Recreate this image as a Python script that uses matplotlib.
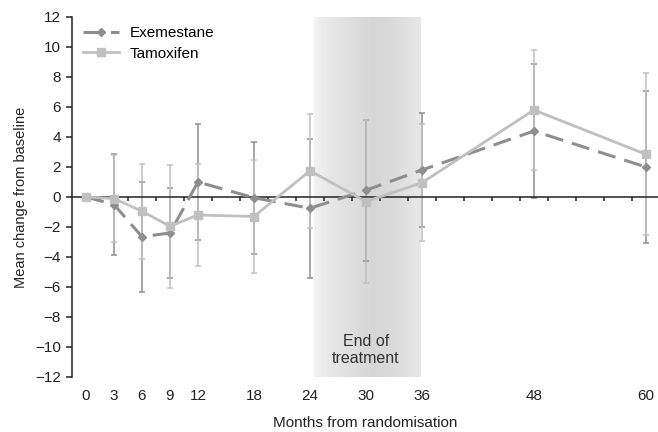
import numpy as np
import matplotlib.pyplot as plt

plt.rcParams['font.family'] = ['Liberation Sans', 'DejaVu Sans']

# data
months = [0, 3, 6, 9, 12, 18, 24, 30, 36, 48, 60]
exe_mean = [0, -0.5, -2.65, -2.4, 1.0, -0.05, -0.75, 0.45, 1.8, 4.4, 2.0]
exe_err = [0, 3.35, 3.65, 2.97, 3.85, 3.73, 4.65, 4.7, 3.8, 4.45, 5.08]
tam_mean = [0, -0.1, -0.95, -1.95, -1.2, -1.3, 1.75, -0.3, 0.95, 5.8, 2.85]
tam_err = [0, 2.88, 3.15, 4.1, 3.4, 3.77, 3.8, 5.4, 3.9, 4.0, 5.4]
tick_labels = ['0', '3', '6', '9', '12', '18', '24', '30', '36', '48', '60']
treatment_span = (24.4, 35.8)

exe_col = '#8e8e8e'
tam_col = '#c0c0c0'
txt_col = '#222222'
fs = 11

fig = plt.figure(figsize=(6.58, 4.32), dpi=100)
ax = fig.add_axes([72 / 658, 55 / 432, 586 / 658, 360 / 432])
ax.set_xlim(-1.5, 61.3)
ax.set_ylim(-12, 12)

# shaded "end of treatment" band with a soft grey gradient
xs = np.linspace(0, 1, 200)
grey = np.interp(xs, [0, 0.15, 0.55, 0.75, 1], [0.95, 0.91, 0.84, 0.86, 0.91])
band = np.dstack([grey, grey, grey])
ax.imshow(band, extent=[treatment_span[0], treatment_span[1], -12, 12],
          aspect='auto', zorder=0, interpolation='bilinear')
ax.text(30, -10.2, 'End of\ntreatment', ha='center', va='center',
        fontsize=fs + 0.5, color='#333333', linespacing=1.2)

ax.errorbar(months, exe_mean, yerr=exe_err, fmt='none', ecolor=exe_col,
            elinewidth=1.1, capsize=2.5, capthick=1.1, zorder=2)
ax.errorbar(months, tam_mean, yerr=tam_err, fmt='none', ecolor=tam_col,
            elinewidth=1.1, capsize=2.5, capthick=1.1, zorder=2)
ax.plot(months, exe_mean, color=exe_col, lw=2.2, dashes=(6, 3),
        marker='D', ms=4.5, label='Exemestane', zorder=3)
ax.plot(months, tam_mean, color=tam_col, lw=2.0, marker='s', ms=6,
        label='Tamoxifen', zorder=3)

# axes styling
for s in ['top', 'right']:
    ax.spines[s].set_visible(False)
ax.spines['bottom'].set_position(('data', 0))
for s in ['left', 'bottom']:
    ax.spines[s].set_linewidth(1.1)
    ax.spines[s].set_color(txt_col)

ax.set_yticks(range(-12, 13, 2))
ax.tick_params(axis='y', direction='out', length=4, width=1.1, pad=4,
               labelsize=fs, colors=txt_col)
ax.set_xticks(np.arange(1.5, 61.5, 3))
ax.tick_params(axis='x', direction='out', length=3, width=1.1,
               labelbottom=False, colors=txt_col)

sec = ax.secondary_xaxis(0)
sec.set_xticks(months)
sec.set_xticklabels(tick_labels)
sec.spines['bottom'].set_visible(False)
sec.tick_params(length=0, pad=9, labelsize=fs, colors=txt_col)
sec.set_xlabel('Months from randomisation', fontsize=fs, labelpad=9,
               color=txt_col)

ax.set_ylabel('Mean change from baseline', fontsize=fs - 0.5, labelpad=5,
              color=txt_col)

ax.legend(loc='upper left', bbox_to_anchor=(0.0, 1.005), frameon=False,
          fontsize=fs, handlelength=2.4, handletextpad=0.7,
          labelspacing=0.45, borderaxespad=0.3)

fig.savefig('out.png', dpi=100)
